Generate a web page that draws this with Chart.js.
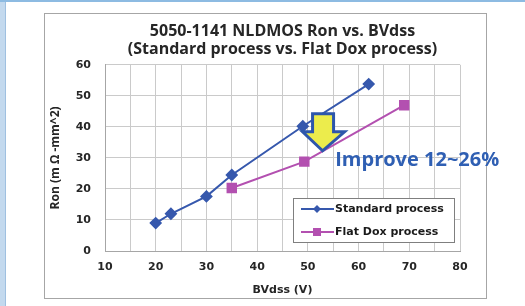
<!DOCTYPE html>
<html>
<head>
<meta charset="utf-8">
<script src="https://cdn.jsdelivr.net/npm/chart.js@4"></script>
<style>
  html, body { margin: 0; padding: 0; background: #fff; }
  body { width: 525px; height: 306px; position: relative; overflow: hidden; }
  #leftBand { position: absolute; left: 0; top: 0; width: 5px; height: 306px; background: #c3d9ee; border-right: 1px solid #9fc0e0; }
  #topBand { position: absolute; left: 0; top: 0; width: 525px; height: 2px; background: #8dbbe2; }
  #box { position: absolute; left: 44px; top: 13px; width: 441px; height: 284px; border: 1px solid #a6a6a6; background: #fff; }
  #chart { position: absolute; left: 0; top: 0; display: block; }
</style>
</head>
<body>
<div id="leftBand"></div>
<div id="topBand"></div>
<div id="box"></div>
<canvas id="chart" width="525" height="306"></canvas>
<script>
// values
const titleLines = ['5050-1141 NLDMOS Ron vs. BVdss', '(Standard process vs. Flat Dox process)'];
const standardBV = [20, 23, 30, 35, 49, 62];
const standardRon = [9, 12, 17.6, 24.5, 40.2, 53.8];
const flatDoxBV = [35, 49.3, 69];
const flatDoxRon = [20.3, 28.8, 47];
const xTicks = [10, 20, 30, 40, 50, 60, 70, 80];
const yTicks = [0, 10, 20, 30, 40, 50, 60];
const improveText = 'Improve 12~26%';

const blue = '#3658ad';
const magenta = '#b350b0';
const tickFont = { family: 'DejaVu Sans', size: 11, weight: 'bold' };

function toPoints(xs, ys) {
    return xs.map((x, i) => ({ x: x, y: ys[i] }));
}

// legend box drawn inside the plot area, lower right
const legendBox = {
    id: 'legendBox',
    afterDatasetsDraw(chart) {
        const ctx = chart.ctx;
        const area = chart.chartArea;
        const w = 161, h = 44;
        const left = area.right - w - 6;
        const top = area.bottom - h - 9;
        ctx.save();
        ctx.fillStyle = '#fff';
        ctx.fillRect(left, top, w, h);
        ctx.strokeStyle = '#7f7f7f';
        ctx.lineWidth = 1;
        ctx.strokeRect(left + 0.5, top + 0.5, w, h);
        ctx.font = 'bold 11px "DejaVu Sans"';
        ctx.textBaseline = 'middle';
        chart.data.datasets.forEach((ds, i) => {
            const y = top + 11 + i * 23;
            ctx.strokeStyle = ds.borderColor;
            ctx.lineWidth = 2;
            ctx.beginPath();
            ctx.moveTo(left + 8, y);
            ctx.lineTo(left + 41, y);
            ctx.stroke();
            ctx.fillStyle = ds.backgroundColor;
            if (ds.pointStyle === 'rectRot') {
                ctx.beginPath();
                ctx.moveTo(left + 24, y - 4);
                ctx.lineTo(left + 28, y);
                ctx.lineTo(left + 24, y + 4);
                ctx.lineTo(left + 20, y);
                ctx.closePath();
                ctx.fill();
            } else {
                ctx.fillRect(left + 20, y - 4, 8, 8);
            }
            ctx.fillStyle = '#1a1a1a';
            ctx.fillText(ds.label, left + 42, y);
        });
        ctx.restore();
    }
};

// yellow down arrow and the improvement note
const improveNote = {
    id: 'improveNote',
    afterDatasetsDraw(chart) {
        const ctx = chart.ctx;
        const xs = chart.scales.x, ys = chart.scales.y;
        const tx = xs.getPixelForValue(52.9);
        const ty = ys.getPixelForValue(32.3);
        ctx.save();
        ctx.beginPath();
        ctx.moveTo(tx, ty);
        ctx.lineTo(tx - 20, ty - 19);
        ctx.lineTo(tx - 10, ty - 19);
        ctx.lineTo(tx - 10, ty - 37);
        ctx.lineTo(tx + 11, ty - 37);
        ctx.lineTo(tx + 11, ty - 19);
        ctx.lineTo(tx + 22, ty - 19);
        ctx.closePath();
        ctx.fillStyle = '#ecec4c';
        ctx.fill();
        ctx.strokeStyle = '#2d56ab';
        ctx.lineWidth = 3;
        ctx.lineJoin = 'miter';
        ctx.stroke();

        ctx.font = 'bold 20px "Open Sans"';
        ctx.fillStyle = '#2f5fb3';
        ctx.textBaseline = 'alphabetic';
        ctx.fillText(improveText, xs.getPixelForValue(55.4), ys.getPixelForValue(27.3));
        ctx.restore();
    }
};

new Chart(document.getElementById('chart'), {
    type: 'scatter',
    data: {
        datasets: [
            {
                label: 'Standard process',
                data: toPoints(standardBV, standardRon),
                showLine: true,
                borderColor: blue,
                backgroundColor: blue,
                borderWidth: 2,
                pointStyle: 'rectRot',
                pointRadius: 5,
                pointHoverRadius: 5,
            },
            {
                label: 'Flat Dox process',
                data: toPoints(flatDoxBV, flatDoxRon),
                showLine: true,
                borderColor: magenta,
                backgroundColor: magenta,
                borderWidth: 2,
                pointStyle: 'rect',
                pointRadius: 6,
                pointHoverRadius: 6,
            },
        ],
    },
    options: {
        responsive: false,
        animation: false,
        layout: { padding: { left: 45, right: 65, top: 14, bottom: 9 } },
        scales: {
            x: {
                type: 'linear',
                min: 10,
                max: 80,
                afterBuildTicks: (s) => {
                    s.ticks = [];
                    for (let v = 10; v <= 80; v += 5) s.ticks.push({ value: v });
                },
                afterFit: (s) => { s.height = 46; },
                ticks: {
                    font: tickFont,
                    color: '#262626',
                    padding: 10,
                    maxRotation: 0,
                    autoSkip: false,
                    callback: (v) => (xTicks.includes(v) ? String(v) : ''),
                },
                grid: { color: '#cacaca', drawTicks: false },
                border: { color: '#a6a6a6' },
                title: {
                    display: true,
                    text: 'BVdss (V)',
                    font: tickFont,
                    color: '#262626',
                    padding: { top: 2, bottom: 0 },
                },
            },
            y: {
                min: 0,
                max: 60,
                afterBuildTicks: (s) => { s.ticks = yTicks.map((v) => ({ value: v })); },
                afterFit: (s) => { s.width = 60; },
                ticks: {
                    font: tickFont,
                    color: '#262626',
                    padding: 14,
                },
                grid: { color: '#cacaca', drawTicks: false },
                border: { color: '#a6a6a6' },
                title: {
                    display: true,
                    text: 'Ron (m Ω -mm^2)',
                    font: { family: 'Open Sans', size: 12, weight: 'bold' },
                    color: '#262626',
                    padding: { top: 3, bottom: 0 },
                },
            },
        },
        plugins: {
            legend: { display: false },
            tooltip: { enabled: false },
            title: {
                display: true,
                fullSize: false,
                text: titleLines,
                font: { family: 'Open Sans', size: 16, weight: 'bold', lineHeight: 1.15 },
                color: '#262626',
                padding: { top: 8, bottom: 6 },
            },
        },
    },
    plugins: [legendBox, improveNote],
});
</script>
</body>
</html>
